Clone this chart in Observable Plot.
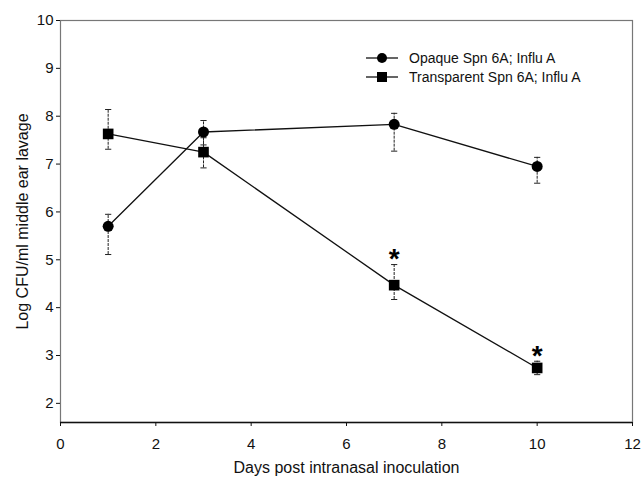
<!DOCTYPE html>
<html>
<head>
<meta charset="utf-8">
<script src="https://cdn.jsdelivr.net/npm/d3@7"></script>
<script src="https://cdn.jsdelivr.net/npm/@observablehq/plot@0.6"></script>
<style>
  html, body { margin: 0; padding: 0; background: #fff; }
  #wrap { position: relative; width: 641px; height: 487px; font-family: "Liberation Sans", Arial, sans-serif; }
  #legend { position: absolute; left: 364px; top: 48px; font-size: 14px; color: #111; }
  #legend .row { display: flex; align-items: center; height: 19px; }
  #legend svg { margin-right: 9px; }
</style>
</head>
<body>
<div id="wrap">
  <div id="chart"></div>
  <div id="legend"></div>
</div>
<script>
const days = [1, 3, 7, 10];
const seriesNames = ["Opaque Spn 6A; Influ A", "Transparent Spn 6A; Influ A"];
const opaqueMean = [5.70, 7.67, 7.83, 6.95];
const opaqueLow  = [5.11, 7.40, 7.27, 6.60];
const opaqueHigh = [5.95, 7.91, 8.06, 7.14];
const transMean = [7.63, 7.25, 4.47, 2.74];
const transLow  = [7.31, 6.92, 4.17, 2.60];
const transHigh = [8.14, 7.55, 4.90, 2.88];
const sigDays = [7, 10];
const sigY = [5.16, 3.13];
const xTicks = [0, 2, 4, 6, 8, 10, 12];
const yTicks = [2, 3, 4, 5, 6, 7, 8, 9, 10];

const rows = [];
days.forEach((d, i) => {
  rows.push({series: seriesNames[0], day: d, mean: opaqueMean[i], low: opaqueLow[i], high: opaqueHigh[i]});
});
days.forEach((d, i) => {
  rows.push({series: seriesNames[1], day: d, mean: transMean[i], low: transLow[i], high: transHigh[i]});
});
const sig = sigDays.map((d, i) => ({day: d, y: sigY[i]}));

const capSymbol = {
  draw(context, size) {
    const r = Math.sqrt(size) / 2;
    context.moveTo(-r, 0);
    context.lineTo(r, 0);
  }
};

const chart = Plot.plot({
  width: 641,
  height: 487,
  marginLeft: 60,
  marginRight: 9,
  marginTop: 20,
  marginBottom: 65,
  style: {fontFamily: "Liberation Sans, Arial, sans-serif", fontSize: "14px", color: "#111", background: "#fff"},
  x: {domain: [0, 12], ticks: xTicks, label: null},
  y: {domain: [1.6, 10], ticks: yTicks, label: null},
  marks: [
    Plot.frame({stroke: "#777", strokeWidth: 1.2}),
    Plot.ruleY([1.6], {stroke: "#111", strokeWidth: 1.5}),
    Plot.axisX({ticks: xTicks, tickSize: 4, tickPadding: 12, label: null, fontSize: 15}),
    Plot.axisY({ticks: yTicks, tickSize: 4, tickPadding: 3, label: null, fontSize: 15}),
    Plot.ruleX(rows, {x: "day", y1: "low", y2: "high", stroke: "#222", strokeWidth: 1, strokeDasharray: "3,1"}),
    Plot.dot(rows, {x: "day", y: "low", symbol: () => capSymbol, r: 3.5, stroke: "#222", strokeWidth: 1}),
    Plot.dot(rows, {x: "day", y: "high", symbol: () => capSymbol, r: 3.5, stroke: "#222", strokeWidth: 1}),
    Plot.line(rows, {x: "day", y: "mean", z: "series", stroke: "#111", strokeWidth: 1.3}),
    Plot.dot(rows.filter(d => d.series === seriesNames[0]), {x: "day", y: "mean", symbol: "circle", r: 5.5, fill: "#000", stroke: "none"}),
    Plot.dot(rows.filter(d => d.series === seriesNames[1]), {x: "day", y: "mean", symbol: "square", r: 6, fill: "#000", stroke: "none"}),
    Plot.text(sig, {x: "day", y: "y", text: () => "*", fontSize: 28, fontWeight: "bold", dy: 7, fill: "#000"}),
    Plot.text(["Days post intranasal inoculation"], {frameAnchor: "bottom", dy: 50, fontSize: 16, fill: "#111"}),
    Plot.text(["Log CFU/ml middle ear lavage"], {frameAnchor: "left", textAnchor: "middle", rotate: -90, dx: -38, fontSize: 16, fill: "#111"})
  ]
});
document.getElementById("chart").appendChild(chart);

const legend = document.getElementById("legend");
seriesNames.forEach((name, i) => {
  const row = document.createElement("div");
  row.className = "row";
  const marker = i === 0
    ? '<circle cx="18" cy="8" r="5" fill="#000"/>'
    : '<rect x="13" y="3" width="10" height="10" fill="#000"/>';
  row.innerHTML = '<svg width="36" height="16"><line x1="2" x2="34" y1="8" y2="8" stroke="#111" stroke-width="1.3"/>' + marker + '</svg><span>' + name + '</span>';
  legend.appendChild(row);
});
</script>
</body>
</html>
